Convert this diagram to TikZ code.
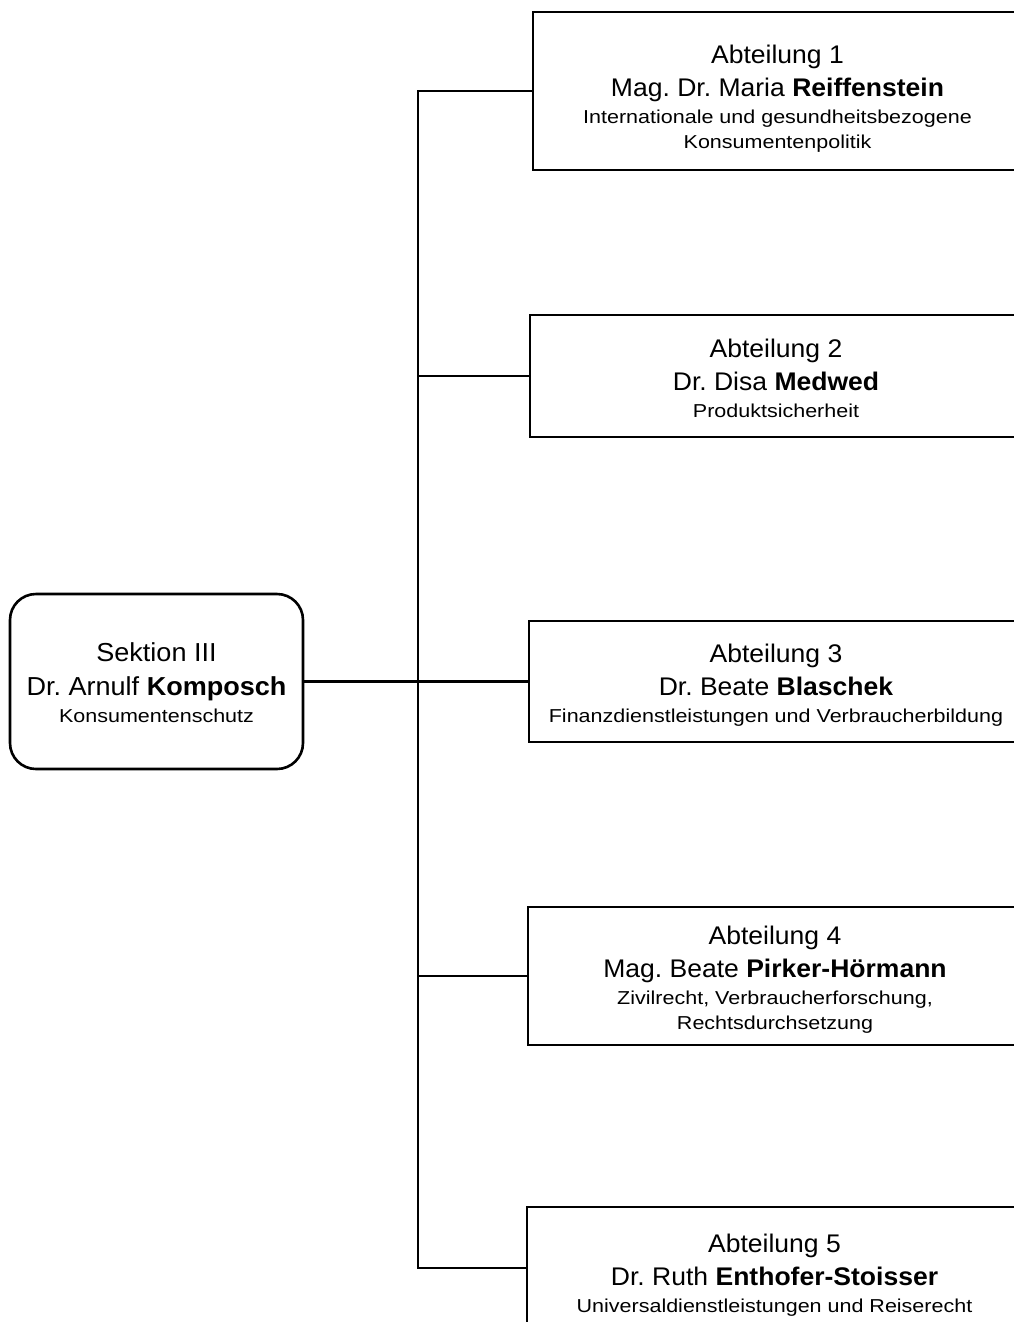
\documentclass[tikz,border=0pt]{standalone}
\usepackage{fontspec}
\setmainfont{Liberation Sans}[FakeStretch=1.04]
\newfontfamily\smallsf{Liberation Sans}[FakeStretch=1.15]
\frenchspacing
\tikzset{
  abt/.style={draw, line width=2.6pt, align=center, inner sep=0pt,
    font=\smallsf\fontsize{18.7}{25}\selectfont},
  sek/.style={draw, line width=2.6pt, align=center, rounded corners=26pt, minimum width=293pt,
    minimum height=175pt, inner sep=0pt, font=\smallsf\fontsize{18.7}{26}\selectfont},
  conn/.style={line width=2.3pt}
}
\newcommand{\abtbig}{\rmfamily\fontsize{25.5}{33}\selectfont}
\newcommand{\sekbig}{\rmfamily\fontsize{26}{34}\selectfont}
\begin{document}
\begin{tikzpicture}[x=1pt,y=-1pt]
\useasboundingbox (0,0) rectangle (1013,1322);
\node[sek] (sec) at (156.5,681.5) {{\sekbig\rule{0pt}{22pt}Sektion III}\\[8pt] {\sekbig Dr. Arnulf \textbf{Komposch}}\\[1pt] Konsumentenschutz};
\node[abt, minimum width=489pt, minimum height=158pt] (b1) at (777.5,91) {{\abtbig\rule{0pt}{33pt}Abteilung 1}\\[8pt] {\abtbig Mag. Dr. Maria \textbf{Reiffenstein}}\\[2pt] Internationale und gesundheitsbezogene\\ Konsumentenpolitik};
\node[abt, minimum width=492pt, minimum height=122pt] (b2) at (776,376) {{\abtbig\rule{0pt}{23.6pt}Abteilung 2}\\[8pt] {\abtbig Dr. Disa \textbf{Medwed}}\\[2pt] Produktsicherheit};
\node[abt, minimum width=494pt, minimum height=121pt] (b3) at (776,681.5) {{\abtbig\rule{0pt}{26.6pt}Abteilung 3}\\[8pt] {\abtbig Dr. Beate \textbf{Blaschek}}\\[2pt] Finanzdienstleistungen und Verbraucherbildung};
\node[abt, minimum width=494pt, minimum height=138pt] (b4) at (775,976) {{\abtbig\rule{0pt}{26.6pt}Abteilung 4}\\[8pt] {\abtbig Mag. Beate \textbf{Pirker-Hörmann}}\\[2pt] Zivilrecht, Verbraucherforschung,\\ Rechtsdurchsetzung};
\node[abt, minimum width=495pt, minimum height=137pt] (b5) at (774.5,1275.5) {{\abtbig Abteilung 5}\\[8pt] {\abtbig Dr. Ruth \textbf{Enthofer-Stoisser}}\\[2pt] Universaldienstleistungen und Reiserecht};
\coordinate (bus) at (418,0);
\coordinate (j5) at (418,1268);
\draw[conn] (sec.east) -- (b3.west);
\draw[conn] (b1.west) -| (j5) -- (j5 -| b5.west);
\draw[conn] (b2.west) -- (bus |- b2.west);
\draw[conn] (b4.west) -- (bus |- b4.west);
\end{tikzpicture}
\end{document}
